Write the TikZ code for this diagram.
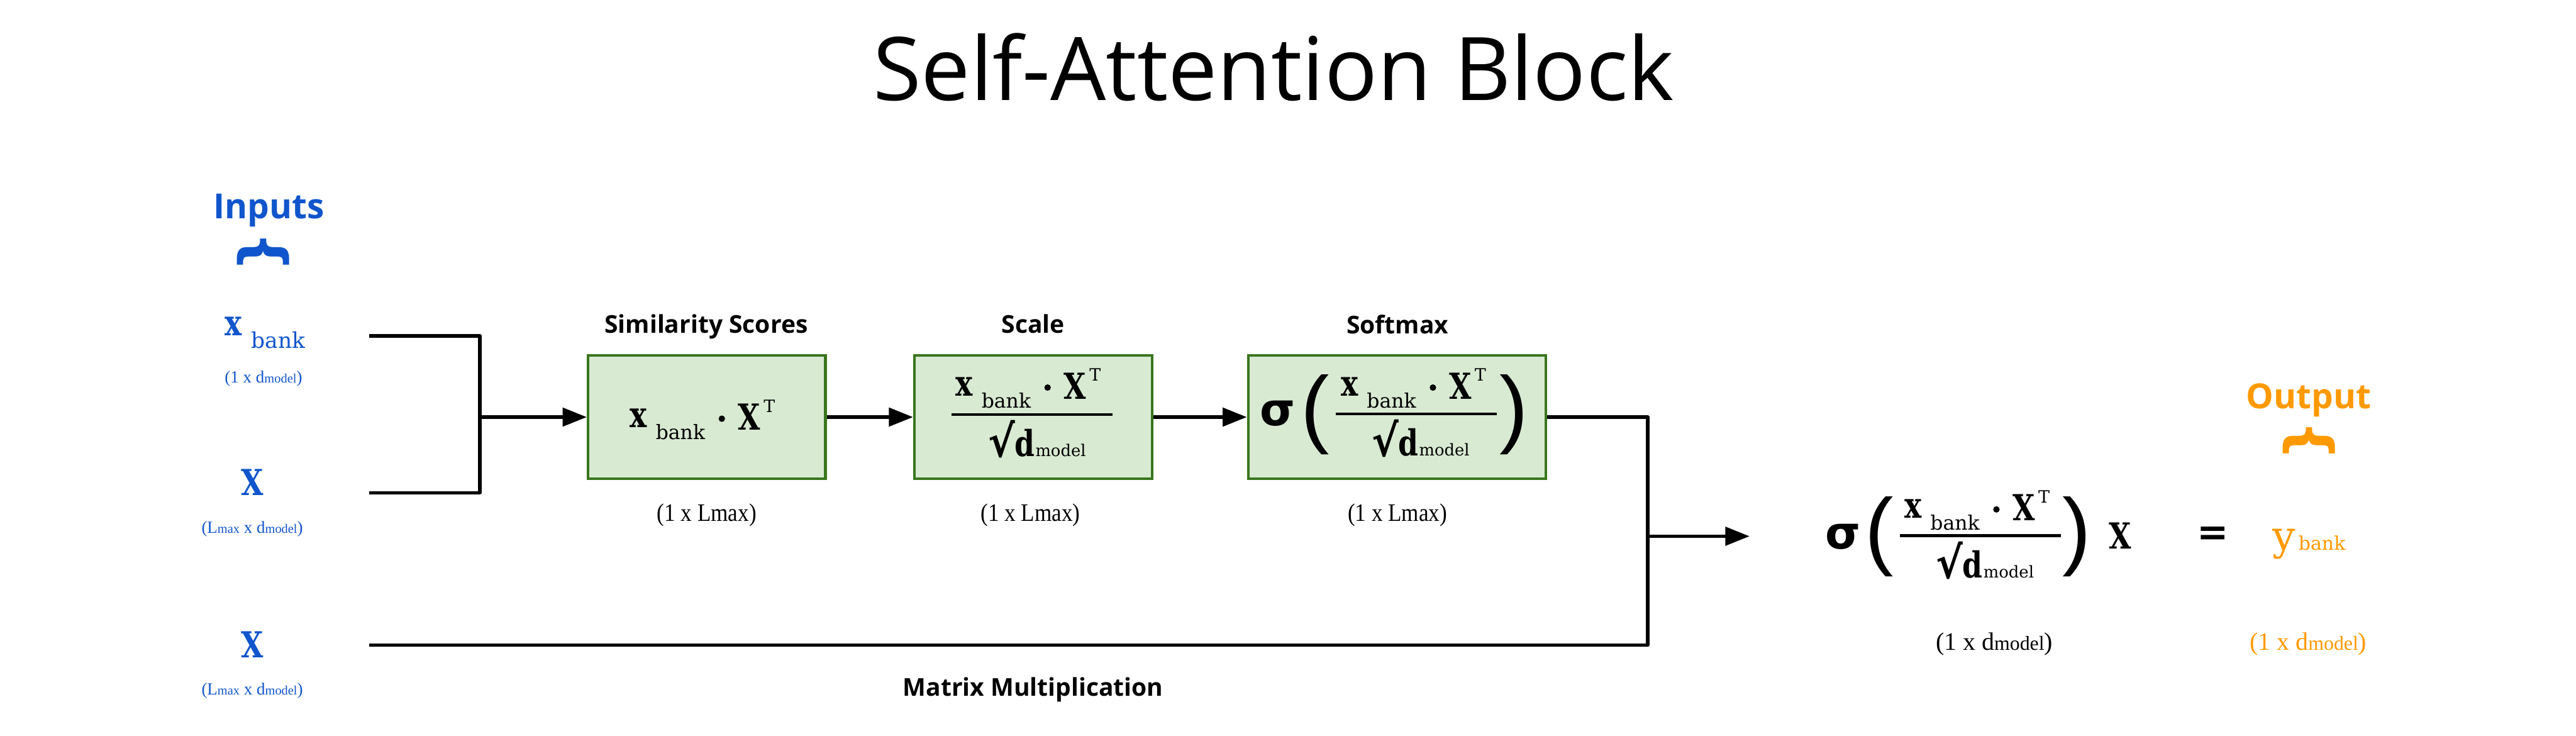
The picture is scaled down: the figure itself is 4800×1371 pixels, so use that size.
\documentclass[tikz,border=0pt]{standalone}
\usepackage{fontspec}
\usepackage{graphicx}
\usetikzlibrary{arrows.meta}
\setmainfont{Liberation Serif}
\newfontfamily\osans{Open Sans}
\newfontfamily\mbold{DejaVu Serif}[FakeStretch=0.8]
\newfontfamily\mreg{DejaVu Serif}
\newfontfamily\dsans{DejaVu Sans}
\newfontfamily\lsans{Liberation Sans}
\newfontfamily\dimf{Liberation Serif}[FakeStretch=0.88]
\newfontfamily\dimn{Liberation Serif}
\definecolor{inblue}{HTML}{1155CC}
\definecolor{outorange}{HTML}{FF9900}
\definecolor{boxgreen}{HTML}{38761D}
\definecolor{boxfill}{HTML}{D9EAD3}
\newcommand{\BX}[1]{{\mbold\bfseries\fontsize{19pt}{19pt}\selectfont #1}}
\newcommand{\SUB}[1]{{\mreg\fontsize{10.5pt}{10.5pt}\selectfont #1}}
\newcommand{\SUP}[1]{{\mreg\fontsize{9pt}{9pt}\selectfont #1}}
\newcommand{\MOD}[1]{{\mreg\fontsize{8.6pt}{8.6pt}\selectfont #1}}
\newcommand{\numer}[3]{%
  \node[g, anchor=base west] (#1x) at (#2,#3) {\BX{x}};
  \node[g, anchor=base west] (#1bank) at (#2+48,#3+22) {\SUB{bank}};
  \fill (#2+171,#3-16) circle (0.06cm);
  \node[g, anchor=base west] (#1X) at (#2+201,#3+5) {\BX{X}};
  \node[g, anchor=base west] (#1T) at (#2+249,#3-28) {\SUP{T}};
}
\newcommand{\denom}[3]{%
  \draw[line width=0.05cm] (#2-150,#3) -- (#2+150,#3);
  \node[g, anchor=north west] (#1sq) at (#2-82,#3+11) {\resizebox*{0.5cm}{0.7cm}{\dsans\bfseries √}};
  \node[g, anchor=base west] (#1d) at (#2-33,#3+78) {\BX{d}};
  \node[g, anchor=base west] (#1m) at (#2+6,#3+78) {\MOD{model}};
}
\tikzset{
  g/.style={inner sep=0pt, outer sep=0pt},
  conn/.style={line width=0.065cm, line join=round},
  arr/.style={conn, -{Triangle[length=0.45cm, width=0.34cm]}},
  opbox/.style={draw=boxgreen, fill=boxfill, line width=0.05cm, inner sep=0pt, minimum height=2.3cm},
  steplabel/.style={g, font=\osans\bfseries\fontsize{13pt}{13pt}\selectfont},
  iolabel/.style={g, font=\osans\bfseries\fontsize{18.3pt}{18.3pt}\selectfont},
  bigparen/.style={g, font=\lsans\fontsize{45.5pt}{45.5pt}\selectfont},
  sig/.style={g, font=\dsans\bfseries\fontsize{24pt}{24pt}\selectfont},
  bracefont/.style={g, font=\dsans\bfseries\fontsize{30pt}{30pt}\selectfont},
}
\newcommand{\dimsIn}[1]{{\dimn\fontsize{9pt}{9pt}\selectfont #1}}
\newcommand{\dimsSm}[1]{{\dimn\fontsize{6.8pt}{6.8pt}\selectfont #1}}
\begin{document}
\begin{tikzpicture}[x=0.01cm, y=-0.01cm]
\useasboundingbox (0,0) rectangle (4800,1371);
\fill[white] (0,0) rectangle (4800,1371);

% title
\node[g, anchor=base, font=\osans\fontsize{46.5pt}{46.5pt}\selectfont] (title) at (2373,187) {Self-Attention Block};

% inputs column
\node[iolabel, text=inblue, anchor=base] (inputs) at (501,407) {Inputs};
\node[bracefont, text=inblue] (inbrace) at (491,469) {\rotatebox{90}{\}}};
\node[g, anchor=base west, text=inblue] (in1x) at (419,625) {\BX{x}};
\node[g, anchor=base west, text=inblue] (in1b) at (468,649) {{\mreg\fontsize{11.5pt}{11.5pt}\selectfont bank}};
\node[g, text=inblue] (in1d) at (491,705) {\dimsIn{(1 x d}\dimsSm{model}\dimsIn{)}};
\node[g, anchor=base, text=inblue] (in2) at (470,923) {\BX{X}};
\node[g, text=inblue] (in2d) at (470,985) {\dimsIn{(L}\dimsSm{max}\dimsIn{ x d}\dimsSm{model}\dimsIn{)}};
\node[g, anchor=base, text=inblue] (in3) at (470,1225) {\BX{X}};
\node[g, text=inblue] (in3d) at (470,1287) {\dimsIn{(L}\dimsSm{max}\dimsIn{ x d}\dimsSm{model}\dimsIn{)}};

% boxes
\node[opbox, minimum width=4.42cm] (b1) at (1317,777) {};
\node[opbox, minimum width=4.43cm] (b2) at (1925.5,777) {};
\node[opbox, minimum width=5.54cm] (b3) at (2603,777) {};

\node[steplabel, anchor=base] (l1) at (1316,621) {Similarity Scores};
\node[steplabel, anchor=base] (l2) at (1925,621) {Scale};
\node[steplabel, anchor=base] (l3) at (2604,622) {Softmax};
\node[steplabel, anchor=base] (l4) at (1925,1297) {Matrix Multiplication};

% box 1 formula
\numer{fa}{1174}{796}
% box 2 formula
\numer{fb}{1781}{738}
\denom{fb}{1923.5}{772}
% box 3 formula
\node[sig] (s3) at (2381,770) {σ};
\node[bigparen] (p3l) at (2451,772) {(};
\node[bigparen] (p3r) at (2821,772) {)};
\numer{fc}{2499}{738}
\denom{fc}{2638.5}{771}

% dims under boxes
\node[g, font=\dimf\fontsize{13.3pt}{13.3pt}\selectfont] (d1) at (1317,960) {(1 x Lmax)};
\node[g, font=\dimf\fontsize{13.3pt}{13.3pt}\selectfont] (d2) at (1920,960) {(1 x Lmax)};
\node[g, font=\dimf\fontsize{13.3pt}{13.3pt}\selectfont] (d3) at (2604,960) {(1 x Lmax)};

% final formula
\node[sig] (sf) at (3434,1000) {σ};
\node[bigparen] (pfl) at (3502,1000) {(};
\node[bigparen] (pfr) at (3870,1000) {)};
\numer{fd}{3549}{965}
\denom{fd}{3690}{998}
\node[g, anchor=base] (fX) at (3950,1023) {\BX{X}};
\node[g, font=\dsans\bfseries\fontsize{20pt}{20pt}\selectfont] (eq) at (4123,998) {=};
\node[g, anchor=base west, text=outorange] (yb) at (4235,1025) {{\mreg\fontsize{21.5pt}{21.5pt}\selectfont y}};
\node[g, anchor=base west, text=outorange] (ybk) at (4283,1025) {{\mreg\fontsize{10pt}{10pt}\selectfont bank}};
\node[g] (fd1) at (3716,1200) {{\dimn\fontsize{13.3pt}{13.3pt}\selectfont (1 x d}{\dimn\fontsize{10.6pt}{10.6pt}\selectfont model}{\dimn\fontsize{13.3pt}{13.3pt}\selectfont )}};
\node[g, text=outorange] (fd2) at (4301,1200) {{\dimn\fontsize{13.3pt}{13.3pt}\selectfont (1 x d}{\dimn\fontsize{10.6pt}{10.6pt}\selectfont model}{\dimn\fontsize{13.3pt}{13.3pt}\selectfont )}};

% output label
\node[iolabel, text=outorange, anchor=base] (output) at (4302,761) {Output};
\node[bracefont, text=outorange] (outbrace) at (4303,821) {\rotatebox{90}{\}}};

% connectors
\coordinate (s1) at (688,626);
\coordinate (s2) at (688,918);
\coordinate (s3c) at (688,1202);
\coordinate (j1) at (894,777);
\coordinate (j2) at (3070,999);
\coordinate (e2) at (3260,999);
\draw[conn] (s1) -| (j1) |- (s2);
\draw[arr] (j1) -- (b1.west);
\draw[arr] (b1.east) -- (b2.west);
\draw[arr] (b2.east) -- (b3.west);
\draw[conn] (b3.east) -| (j2) |- (s3c);
\draw[arr] (j2) -- (e2);
\end{tikzpicture}
\end{document}
